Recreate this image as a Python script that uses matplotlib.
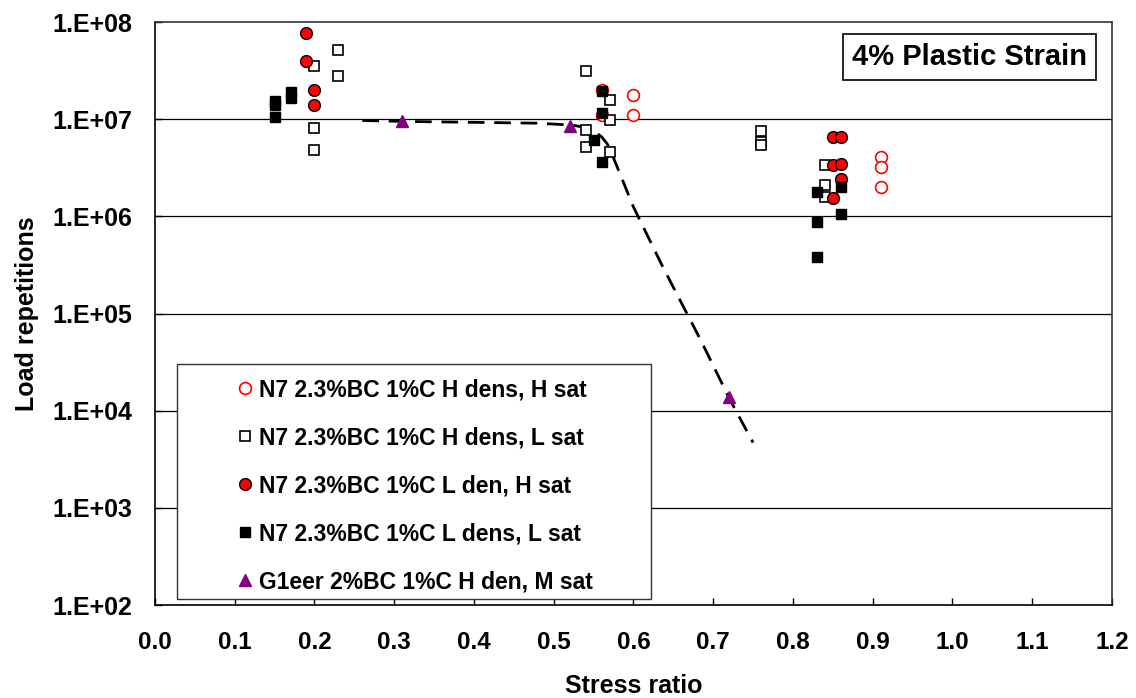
import numpy as np
import matplotlib
matplotlib.use('Agg')
import matplotlib.pyplot as plt
from matplotlib.patches import Rectangle
from matplotlib.ticker import FixedLocator, FuncFormatter, NullLocator

plt.rcParams['font.family'] = ['Liberation Sans', 'DejaVu Sans']
plt.rcParams['font.weight'] = 'bold'

# N7 2.3%BC 1%C H dens, H sat
hh_x = [0.56, 0.56, 0.60, 0.60, 0.91, 0.91, 0.91]
hh_y = [2.0e7, 1.1e7, 1.77e7, 1.1e7, 4.1e6, 3.2e6, 2.0e6]

# N7 2.3%BC 1%C H dens, L sat
hl_x = [0.20, 0.23, 0.23, 0.20, 0.20,
        0.54, 0.57, 0.57, 0.54, 0.54, 0.57,
        0.76, 0.76, 0.76,
        0.84, 0.84, 0.84]
hl_y = [3.5e7, 5.2e7, 2.8e7, 8.1e6, 4.8e6,
        3.1e7, 1.58e7, 9.8e6, 7.7e6, 5.2e6, 4.6e6,
        7.6e6, 5.8e6, 5.4e6,
        3.4e6, 2.1e6, 1.6e6]

# N7 2.3%BC 1%C L den, H sat
lh_x = [0.19, 0.19, 0.20, 0.20, 0.85, 0.86, 0.85, 0.86, 0.86, 0.85]
lh_y = [7.7e7, 4.0e7, 2.0e7, 1.4e7, 6.6e6, 6.6e6, 3.4e6, 3.5e6, 2.4e6, 1.55e6]

# N7 2.3%BC 1%C L dens, L sat
ll_x = [0.15, 0.15, 0.15, 0.17, 0.17,
        0.56, 0.56, 0.55, 0.56,
        0.83, 0.86, 0.86, 0.83, 0.83]
ll_y = [1.55e7, 1.4e7, 1.05e7, 1.9e7, 1.65e7,
        1.95e7, 1.16e7, 6.1e6, 3.6e6,
        1.8e6, 2.0e6, 1.06e6, 8.7e5, 3.8e5]

# G1eer 2%BC 1%C H den, M sat
g_x = [0.31, 0.52, 0.72]
g_y = [9.5e6, 8.6e6, 1.38e4]

# dashed trend curve
trend_x = [0.26, 0.31, 0.48, 0.523, 0.537, 0.55, 0.56, 0.567, 0.575, 0.60, 0.637, 0.684, 0.721, 0.75]
trend_y = [9.7e6, 9.5e6, 9.1e6, 8.7e6, 8.3e6, 7.6e6, 6.6e6, 5.6e6, 4.0e6, 1.25e6, 3.0e5, 5.4e4, 1.3e4, 4.7e3]

labels = ['N7 2.3%BC 1%C H dens, H sat',
          'N7 2.3%BC 1%C H dens, L sat',
          'N7 2.3%BC 1%C L den, H sat',
          'N7 2.3%BC 1%C L dens, L sat',
          'G1eer 2%BC 1%C H den, M sat']

fig = plt.figure(figsize=(11.36, 6.98), dpi=100)
ax = fig.add_axes([0.1364, 0.1332, 0.8424, 0.8352])

ax.set_xlim(0, 1.2)
ax.set_yscale('log')
ax.set_ylim(1e2, 1e8)

ax.yaxis.set_major_locator(FixedLocator([10.0 ** k for k in range(2, 9)]))
ax.yaxis.set_minor_locator(NullLocator())
ax.yaxis.set_major_formatter(FuncFormatter(lambda v, p: '1.E+%02d' % int(round(np.log10(v)))))
ax.set_xticks(np.arange(0, 1.21, 0.1))
ax.xaxis.set_major_formatter(FuncFormatter(lambda v, p: '%.1f' % v))

for k in range(3, 8):
    ax.axhline(10.0 ** k, color='black', lw=0.9, zorder=1)

ax.plot(trend_x, trend_y, color='black', lw=2, dashes=(6, 3.5), zorder=3)

ax.plot(hh_x, hh_y, 'o', ms=8.5, mfc='white', mec='red', mew=1.2, ls='none', label=labels[0], zorder=4)
ax.plot(hl_x, hl_y, 's', ms=7.5, mfc='white', mec='black', mew=1.2, ls='none', label=labels[1], zorder=5)
ax.plot(lh_x, lh_y, 'o', ms=8.5, mfc='red', mec='black', mew=1.0, ls='none', label=labels[2], zorder=6)
ax.plot(ll_x, ll_y, 's', ms=7, mfc='black', mec='black', ls='none', label=labels[3], zorder=7)
ax.plot(g_x, g_y, '^', ms=8, mfc='#800080', mec='#800080', ls='none', label=labels[4], zorder=8)

ax.tick_params(axis='both', direction='in', length=5, width=1)
ax.tick_params(axis='x', pad=19, labelsize=17.5)
ax.tick_params(axis='y', pad=16, labelsize=18)
for s in ax.spines.values():
    s.set_linewidth(1.2)
    s.set_color('#333333')
ax.spines['left'].set_color('black')
ax.spines['bottom'].set_color('black')

ax.set_xlabel('Stress ratio', fontsize=18, fontweight='bold', labelpad=14)
ax.set_ylabel('Load repetitions', fontsize=18, fontweight='bold', labelpad=10)

# legend box drawn separately, entries sit inside it
ax.add_patch(Rectangle((0.023, 0.0103), 0.4953, 0.4031, transform=ax.transAxes,
                       fc='white', ec='#333333', lw=1.0, zorder=2))
leg = ax.legend(loc='upper left', bbox_to_anchor=(0.0867, 0.389), frameon=False,
                fontsize=16.5, labelspacing=1.09, handletextpad=0.3, handlelength=0.6,
                borderpad=0, borderaxespad=0)
leg.set_zorder(9)
for t in leg.get_texts():
    t.set_fontweight('bold')

ax.text(0.851, 0.94, '4% Plastic Strain', transform=ax.transAxes, fontsize=21,
        fontweight='bold', ha='center', va='center',
        bbox=dict(boxstyle='square,pad=0.3', fc='white', ec='black', lw=1.2), zorder=10)

fig.savefig('out.png', dpi=100)
